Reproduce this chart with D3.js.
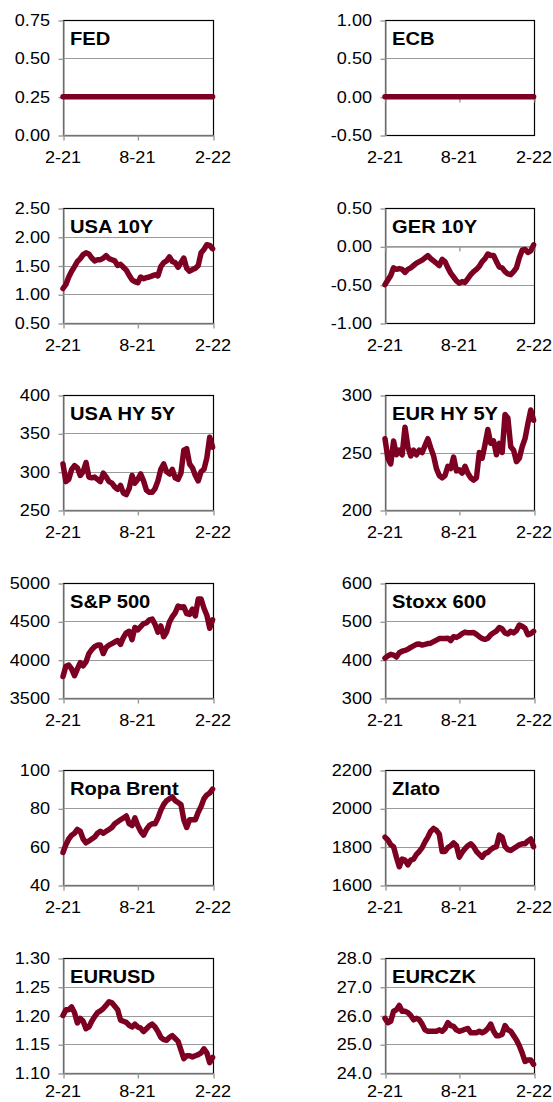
<!DOCTYPE html>
<html><head><meta charset="utf-8">
<script src="https://cdn.jsdelivr.net/npm/d3@7"></script>
<style>
body{margin:0;background:#fff}
svg{display:block}
text{font-family:"Liberation Sans",Arial,sans-serif;fill:#000}
</style>
</head><body>
<svg id="c" width="553" height="1102"></svg>
<script>
// ---- data ----
const dates = ["2021-02-01","2021-02-08","2021-02-15","2021-02-22","2021-03-01","2021-03-08","2021-03-15","2021-03-22","2021-03-29",
"2021-04-05","2021-04-12","2021-04-19","2021-04-26","2021-05-03","2021-05-10","2021-05-17","2021-05-24","2021-05-31",
"2021-06-07","2021-06-14","2021-06-21","2021-06-28","2021-07-05","2021-07-12","2021-07-19","2021-07-26",
"2021-08-02","2021-08-09","2021-08-16","2021-08-23","2021-08-30","2021-09-06","2021-09-13","2021-09-20","2021-09-27",
"2021-10-04","2021-10-11","2021-10-18","2021-10-25","2021-11-01","2021-11-08","2021-11-15","2021-11-22","2021-11-29",
"2021-12-06","2021-12-13","2021-12-20","2021-12-27","2022-01-03","2022-01-10","2022-01-17","2022-01-24","2022-01-31"];
const xDomain = ["2021-02-01","2022-02-01"];
const xTickDates = ["2021-02-01","2021-08-01","2022-02-01"];
const xTickLabels = ["2-21","8-21","2-22"];

const titles = ["FED","ECB","USA 10Y","GER 10Y","USA HY 5Y","EUR HY 5Y","S&P 500","Stoxx 600","Ropa Brent","Zlato","EURUSD","EURCZK"];

const fed = [0.25,0.25,0.25,0.25,0.25,0.25,0.25,0.25,0.25,0.25,0.25,0.25,0.25,0.25,0.25,0.25,0.25,0.25,0.25,0.25,0.25,0.25,0.25,0.25,0.25,0.25,0.25,0.25,0.25,0.25,0.25,0.25,0.25,0.25,0.25,0.25,0.25,0.25,0.25,0.25,0.25,0.25,0.25,0.25,0.25,0.25,0.25,0.25,0.25,0.25,0.25,0.25,0.25];
const ecb = [0,0,0,0,0,0,0,0,0,0,0,0,0,0,0,0,0,0,0,0,0,0,0,0,0,0,0,0,0,0,0,0,0,0,0,0,0,0,0,0,0,0,0,0,0,0,0,0,0,0,0,0,0];
const usa10y = [1.10,1.17,1.30,1.40,1.48,1.57,1.62,1.69,1.72,1.70,1.63,1.58,1.60,1.60,1.63,1.67,1.62,1.60,1.58,1.50,1.52,1.47,1.42,1.33,1.25,1.22,1.20,1.30,1.27,1.29,1.30,1.32,1.34,1.32,1.48,1.55,1.58,1.65,1.57,1.55,1.47,1.55,1.63,1.45,1.40,1.43,1.45,1.50,1.72,1.78,1.86,1.85,1.79];
const ger10y = [-0.50,-0.44,-0.38,-0.28,-0.30,-0.29,-0.30,-0.34,-0.30,-0.28,-0.25,-0.22,-0.20,-0.18,-0.15,-0.12,-0.16,-0.19,-0.22,-0.25,-0.17,-0.20,-0.28,-0.35,-0.40,-0.45,-0.48,-0.46,-0.47,-0.42,-0.37,-0.33,-0.30,-0.26,-0.20,-0.16,-0.10,-0.12,-0.12,-0.20,-0.27,-0.28,-0.33,-0.36,-0.37,-0.33,-0.28,-0.15,-0.05,-0.04,-0.08,-0.06,0.02];
const usaHy = [310,287,290,303,308,305,295,300,312,293,292,293,290,287,298,293,287,285,280,277,282,272,270,278,295,285,290,297,288,276,273,273,278,288,303,310,300,297,303,292,290,298,328,330,310,305,295,288,300,303,318,345,332];
const eurHy = [262,245,240,260,248,252,248,272,255,247,252,248,252,250,256,262,254,247,236,230,228,230,238,236,246,234,235,232,238,232,228,226,228,250,245,257,270,258,260,248,258,250,283,280,255,252,242,245,255,262,275,287,278];
const sp500 = [3780,3915,3930,3880,3790,3880,3960,3920,3970,4080,4130,4170,4190,4190,4080,4160,4190,4210,4230,4250,4200,4290,4350,4370,4260,4420,4390,4430,4470,4480,4520,4530,4460,4360,4440,4300,4360,4490,4560,4610,4700,4680,4690,4600,4590,4660,4570,4790,4790,4670,4580,4410,4520];
const stoxx = [404,410,414,412,407,418,422,424,427,432,436,440,441,438,440,442,443,447,451,455,455,455,456,450,460,458,462,468,472,470,470,471,466,460,455,453,456,465,470,475,484,480,470,467,474,470,476,490,487,482,465,468,474];
const brent = [57,61,64,66,67,69,68,64,62,63,64,65,67,68,67,68,69,70,72,73,74,75,76,72,71,75,71,68,66,69,71,72,72,75,79,82,84,85,86,84,83,82,74,70,74,74,74,78,81,85,87,88,90];
const gold = [1850,1835,1810,1800,1745,1695,1735,1730,1705,1730,1735,1760,1775,1795,1825,1850,1880,1895,1885,1865,1775,1775,1795,1805,1820,1805,1745,1770,1790,1805,1815,1800,1775,1760,1745,1765,1770,1785,1795,1800,1860,1850,1800,1785,1780,1790,1800,1810,1815,1815,1830,1840,1800];
const eurusd = [1.200,1.210,1.210,1.215,1.205,1.187,1.195,1.190,1.177,1.180,1.190,1.198,1.205,1.208,1.212,1.218,1.224,1.222,1.216,1.210,1.192,1.190,1.188,1.183,1.180,1.185,1.180,1.178,1.172,1.177,1.182,1.185,1.180,1.172,1.162,1.158,1.157,1.162,1.165,1.160,1.155,1.140,1.125,1.130,1.130,1.128,1.130,1.132,1.135,1.142,1.135,1.118,1.127];
const eurczk = [25.90,25.75,25.80,26.15,26.20,26.35,26.15,26.15,26.10,26.00,25.85,25.90,25.85,25.70,25.50,25.45,25.45,25.45,25.45,25.50,25.45,25.55,25.75,25.65,25.62,25.50,25.45,25.48,25.52,25.55,25.40,25.40,25.40,25.45,25.40,25.45,25.55,25.70,25.45,25.30,25.30,25.35,25.65,25.50,25.45,25.30,25.15,24.95,24.70,24.40,24.45,24.45,24.30];

const fedTicks = [0,0.25,0.5,0.75];
const ecbTicks = [-0.5,0,0.5,1.0];
const usa10yTicks = [0.5,1.0,1.5,2.0,2.5];
const ger10yTicks = [-1.0,-0.5,0,0.5];
const usaHyTicks = [250,300,350,400];
const eurHyTicks = [200,250,300];
const sp500Ticks = [3500,4000,4500,5000];
const stoxxTicks = [300,400,500,600];
const brentTicks = [40,60,80,100];
const goldTicks = [1600,1800,2000,2200];
const eurusdTicks = [1.10,1.15,1.20,1.25,1.30];
const eurczkTicks = [24,25,26,27,28];

const series = [fed,ecb,usa10y,ger10y,usaHy,eurHy,sp500,stoxx,brent,gold,eurusd,eurczk];
const ticks = [fedTicks,ecbTicks,usa10yTicks,ger10yTicks,usaHyTicks,eurHyTicks,sp500Ticks,stoxxTicks,brentTicks,goldTicks,eurusdTicks,eurczkTicks];
const formats = [".2f",".2f",".2f",".2f","d","d","d","d","d","d",".2f",".1f"];

// ---- drawing ----
const locale = d3.formatLocale({decimal: ".", thousands: "", grouping: [3], currency: ["", ""], minus: "-"});
const parse = d3.utcParse("%Y-%m-%d");
const svg = d3.select("#c");
const colX = [[63,213],[385,534]];
const PH = 115;
const LINE = "#7d0022";
const GRAY = "#9a9a9a";
const SX = 1.13;

function txt(g, x, y, s, opts) {
  return g.append("text")
    .attr("transform", `translate(${x},${y}) scale(${opts.sx||SX},1)`)
    .attr("text-anchor", opts.anchor || "start")
    .attr("font-size", opts.size)
    .attr("font-weight", opts.weight || "normal")
    .text(s);
}

series.forEach((vals, i) => {
  const col = i % 2, row = Math.floor(i / 2);
  const [x0, x1] = colX[col];
  const top = Math.round(20 + row * 187.6);
  const bot = top + PH;
  const tk = ticks[i];
  const ymin = d3.min(tk), ymax = d3.max(tk);
  const x = d3.scaleUtc().domain(xDomain.map(parse)).range([x0, x1]);
  const y = d3.scaleLinear().domain([ymin, ymax]).range([bot, top]);
  const g = svg.append("g");
  const fmt = locale.format(formats[i]);

  // gridlines
  tk.forEach(v => {
    if (v === ymin || v === ymax) return;
    const yy = Math.round(y(v)) + 0.5;
    g.append("line").attr("x1", x0).attr("x2", x1).attr("y1", yy).attr("y2", yy)
      .attr("stroke", GRAY).attr("stroke-width", 1.2);
  });
  // border
  g.append("rect").attr("x", x0 + 0.5).attr("y", top + 0.5).attr("width", x1 - x0).attr("height", PH)
    .attr("fill", "none").attr("stroke", "#000").attr("stroke-width", 1.2);
  // y axis
  const yAxis = d3.axisLeft(y).tickValues(tk).tickSize(5).tickSizeOuter(0).tickFormat("");
  const ya = g.append("g").attr("transform", `translate(${x0 + 0.5},0.5)`).call(yAxis);
  ya.selectAll("path,line").attr("stroke", GRAY).attr("stroke-width", 1.4);
  tk.forEach(v => {
    txt(g, x0 - 13, y(v) + 6, fmt(v), {anchor: "end", size: 16});
  });
  // x axis
  const cross = (ymin < 0 && ymax > 0) ? 0 : ymin;
  const xAxis = d3.axisBottom(x).tickValues(xTickDates.map(parse)).tickSize(5).tickSizeOuter(0).tickFormat("");
  const xa = g.append("g").attr("transform", `translate(0.5,${Math.round(y(cross)) + 0.5})`).call(xAxis);
  xa.selectAll("path,line").attr("stroke", GRAY).attr("stroke-width", 1.4);
  const labY = Math.min(bot + 28, 1097);
  xTickDates.forEach((d, j) => {
    txt(g, x(parse(d)), labY, xTickLabels[j], {anchor: "middle", size: 16});
  });
  // series line
  const line = d3.line().x((v, j) => x(parse(dates[j]))).y(v => y(v)).curve(d3.curveLinear);
  g.append("path").datum(vals).attr("d", line)
    .attr("fill", "none").attr("stroke", LINE).attr("stroke-width", 5.5)
    .attr("stroke-linejoin", "round").attr("stroke-linecap", "round");
  // title
  txt(g, x0 + 7, top + 25, titles[i], {size: 18, weight: "bold", sx: 1.12});
});
</script>
</body></html>
